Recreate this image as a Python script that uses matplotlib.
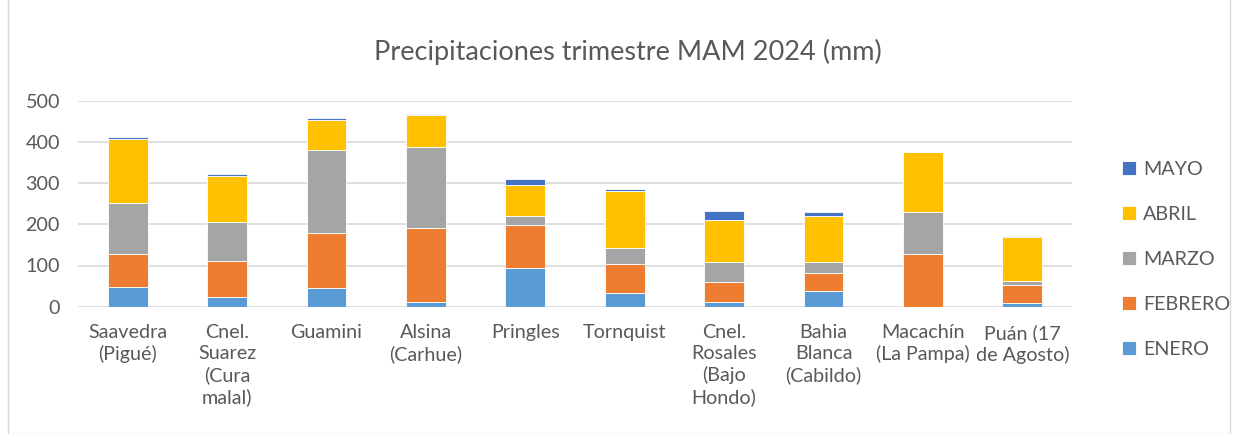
import matplotlib
matplotlib.use("Agg")
import matplotlib.pyplot as plt
import numpy as np

categories = ["Saavedra\n(Pigué)", "Cnel.\nSuarez\n(Cura\nmalal)", "Guamini", "Alsina\n(Carhue)",
              "Pringles", "Tornquist", "Cnel.\nRosales\n(Bajo\nHondo)", "Bahia\nBlanca\n(Cabildo)",
              "Macachín\n(La Pampa)", "Puán (17\nde Agosto)"]
enero   = [47, 24, 45, 11, 95, 33, 12, 37, 0, 8]
febrero = [81, 88, 135, 181, 104, 70, 49, 46, 129, 45]
marzo   = [124, 93, 200, 195, 22, 39, 47, 25, 100, 10]
abril   = [156, 112, 74, 78, 75, 138, 102, 112, 146, 106]
mayo    = [4, 4, 4, 3, 15, 6, 22, 10, 1, 3]

series = [("ENERO", enero, "#5B9BD5"), ("FEBRERO", febrero, "#ED7D31"),
          ("MARZO", marzo, "#A5A5A5"), ("ABRIL", abril, "#FFC000"),
          ("MAYO", mayo, "#4472C4")]
yticks = [0, 100, 200, 300, 400, 500]

plt.rcParams['font.family'] = ['Lato', 'DejaVu Sans']
txt = "#595959"

fig = plt.figure(figsize=(12.38, 4.34), dpi=100)
ax = fig.add_axes([78/1238, (434-306.7)/434, (1072-78)/1238, 206/434])

x = np.arange(len(categories))
bottom = np.zeros(len(categories))
handles = []
for name, vals, col in series:
    b = ax.bar(x, vals, 0.40, bottom=bottom, color=col, edgecolor="white", linewidth=0.6,
               label=name, zorder=3)
    handles.append(b)
    bottom += np.array(vals)

ax.set_xlim(-0.5, len(categories) - 0.5)
ax.set_ylim(0, 500)
ax.set_yticks(yticks)
ax.set_yticklabels([str(v) for v in yticks])
ax.set_xticks(x)
ax.set_xticklabels(categories, linespacing=1.28)
ax.grid(axis="y", color="#D9D9D9", linewidth=1.2, zorder=0)
for s in ax.spines.values():
    s.set_visible(False)
ax.tick_params(axis="both", length=0, labelsize=14.2, colors=txt)
ax.tick_params(axis="y", pad=13)
ax.tick_params(axis="x", pad=12.5)

fig.text(628/1238, 1 - 52/434, "Precipitaciones trimestre MAM 2024 (mm)", ha="center", va="center",
         fontsize=19.5, color=txt)

leg = fig.legend(handles[::-1], [s[0] for s in series][::-1], loc="upper left",
                 bbox_to_anchor=(1104/1238, 1 - 143/434), frameon=False, fontsize=14.2,
                 labelspacing=1.42, handlelength=0.72, handleheight=0.72, handletextpad=0.35)
for t in leg.get_texts():
    t.set_color(txt)

fig.patches.append(matplotlib.patches.Rectangle((8/1238, 0), 1222/1238, 1.2, transform=fig.transFigure,
                                                fill=False, edgecolor="#D9D9D9", linewidth=1))

fig.savefig("out.png", dpi=100)
